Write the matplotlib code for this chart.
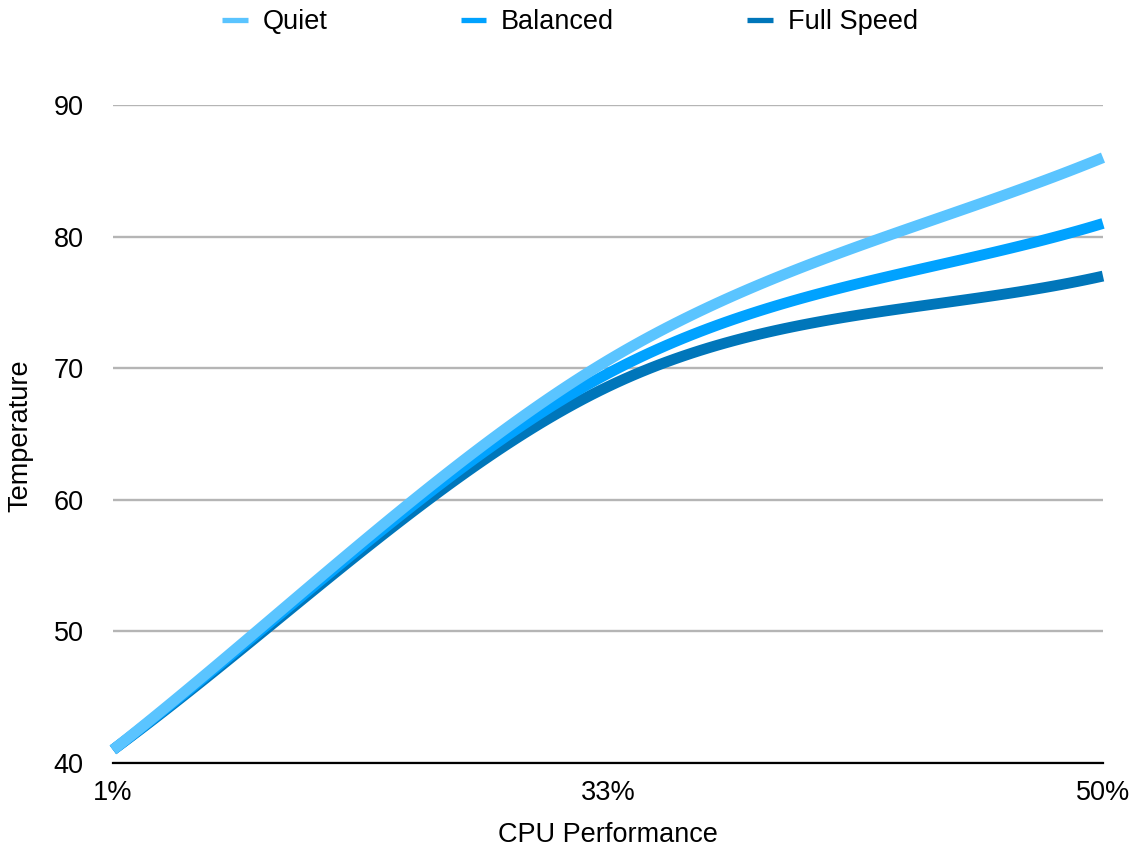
import numpy as np
import matplotlib
matplotlib.use("Agg")
import matplotlib.pyplot as plt

# chart data
categories = ["1%", "33%", "50%"]
quiet = [41, 70.6, 86]
balanced = [41, 69.6, 81]
full_speed = [41, 68.6, 77]

series = [
    ("Quiet", quiet, "#5AC4FF"),
    ("Balanced", balanced, "#00A2FF"),
    ("Full Speed", full_speed, "#0076BA"),
]

plt.rcParams['font.family'] = ['Liberation Sans', 'DejaVu Sans']


def smooth(y, n=60):
    # cubic hermite through the points (same look as the "smooth line" option)
    y = np.asarray(y, dtype=float)
    x = np.arange(len(y), dtype=float)
    m = np.zeros_like(y)
    m[0] = y[1] - y[0]
    m[-1] = y[-1] - y[-2]
    m[1:-1] = (y[2:] - y[:-2]) / 2
    xs, ys = [], []
    for i in range(len(y) - 1):
        t = np.linspace(0, 1, n)
        h00 = 2 * t**3 - 3 * t**2 + 1
        h10 = t**3 - 2 * t**2 + t
        h01 = -2 * t**3 + 3 * t**2
        h11 = t**3 - t**2
        xs.append(x[i] + t)
        ys.append(h00 * y[i] + h10 * m[i] + h01 * y[i + 1] + h11 * m[i + 1])
    return np.concatenate(xs), np.concatenate(ys)


fig = plt.figure(figsize=(11.36, 8.52), dpi=100)
ax = fig.add_axes([113 / 1136, 89 / 852, 990 / 1136, 658 / 852])

# draw Full Speed first so Quiet ends up on top
for name, vals, col in reversed(series):
    xs, ys = smooth(vals)
    ax.plot(xs, ys, color=col, lw=7.8, solid_capstyle='butt', clip_on=False,
            label=name)

ax.set_xlim(0, len(categories) - 1)
ax.set_ylim(40, 90)
ax.set_xticks(range(len(categories)))
ax.set_xticklabels(categories)
ax.set_yticks([40, 50, 60, 70, 80, 90])
ax.tick_params(axis='both', length=0, labelsize=19.5)
ax.tick_params(axis='y', pad=21)
ax.tick_params(axis='x', pad=12)

ax.yaxis.grid(True, color='#B5B5B5', lw=1.7)
ax.set_axisbelow(True)
for s in ['top', 'right', 'left']:
    ax.spines[s].set_visible(False)
ax.spines['bottom'].set_color('black')
ax.spines['bottom'].set_linewidth(1.6)
ax.spines['bottom'].set_zorder(1)

ax.set_xlabel("CPU Performance", fontsize=19.5)
ax.set_ylabel("Temperature", fontsize=19.5)
ax.xaxis.set_label_coords(0.5, -0.089)
ax.yaxis.set_label_coords(-0.080, 0.497)

handles, labels = ax.get_legend_handles_labels()
leg = fig.legend(handles[::-1], labels[::-1], loc='center',
                 bbox_to_anchor=(570 / 1136, 1 - 22 / 852), ncol=3,
                 frameon=False, fontsize=19.5, handlelength=0.95,
                 handletextpad=0.55, columnspacing=4.9, borderpad=0)
for line in leg.get_lines():
    line.set_linewidth(3.8)

fig.savefig("out.png", dpi=100)
